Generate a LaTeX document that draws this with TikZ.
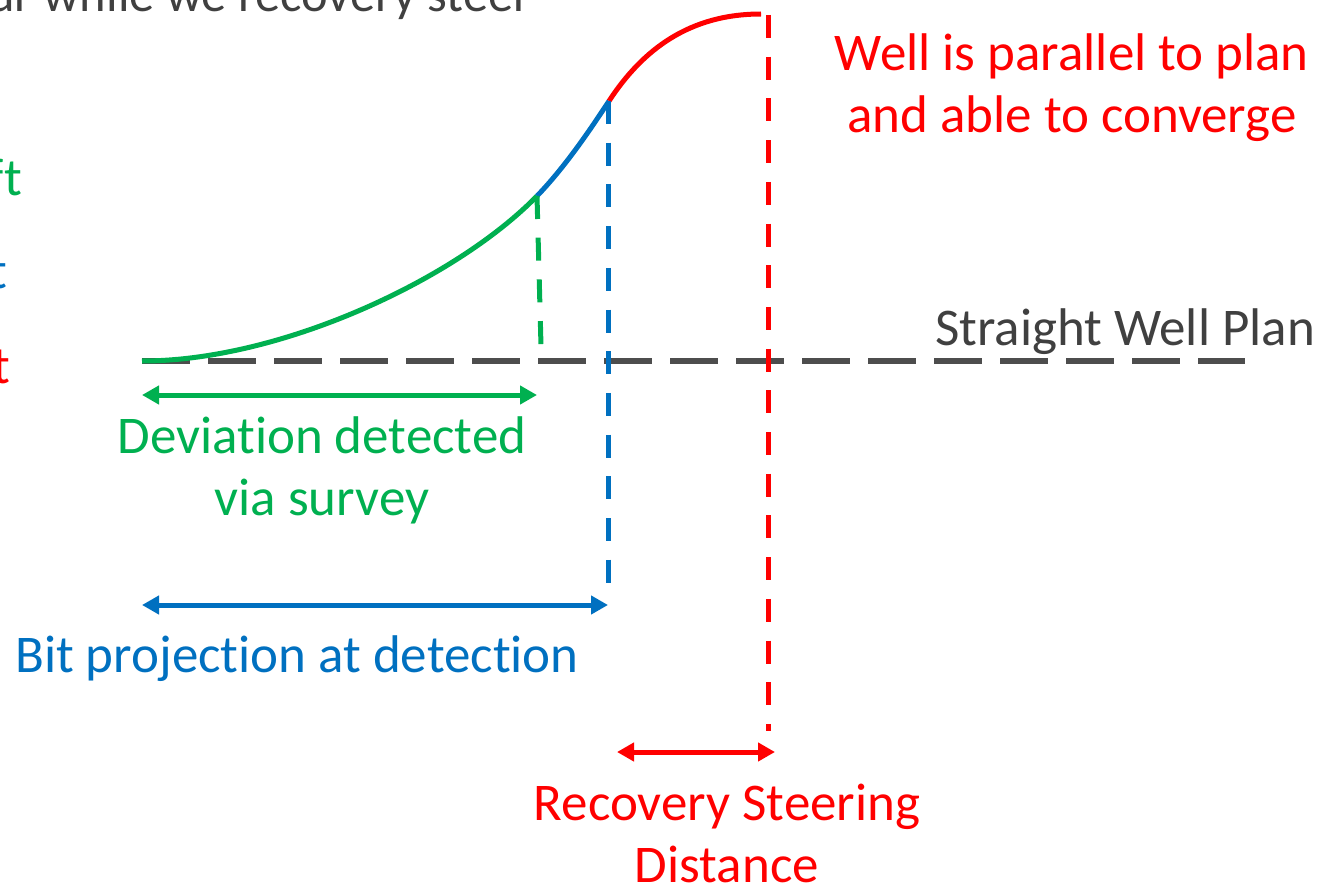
\documentclass[tikz,border=0pt]{standalone}
\usepackage{fontspec}
\setmainfont{Carlito}[Ligatures=NoCommon]
\usetikzlibrary{arrows.meta}
\definecolor{cgreen}{HTML}{00B050}
\definecolor{cblue}{HTML}{0070C0}
\definecolor{cred}{HTML}{FF0000}
\definecolor{cgray}{HTML}{404040}
\definecolor{cline}{HTML}{4D4D4D}
\begin{document}
\begin{tikzpicture}[x=1pt,y=-1pt,
  lbl/.style={inner sep=0pt, font=\fontsize{53}{62}\selectfont, align=center},
  curve/.style={line width=5pt},
  vdash/.style={line width=5pt, dash pattern=on 23pt off 18.7pt},
  plandash/.style={cline, line width=6pt, dash pattern=on 48pt off 18pt},
  dim/.style={line width=5pt, {Triangle[length=17pt,width=18pt]}-{Triangle[length=17pt,width=18pt]}},
]
\useasboundingbox (0,0) rectangle (1319,888);
\clip (0,0) rectangle (1319,888);
% key points
\coordinate (start) at (142,361);
\coordinate (det) at (537,196);
\coordinate (bit) at (609,101);
\coordinate (par) at (761,14);
\coordinate (planend) at (1245,361);
\coordinate (detfoot) at (541,346);
\coordinate (bittop) at (608,101);
\coordinate (bitfoot) at (608,588);
\coordinate (partop) at (768,15);
\coordinate (parfoot) at (768,731);
\coordinate (gA) at (142,395);
\coordinate (gB) at (537,395);
\coordinate (bA) at (142,605);
\coordinate (bB) at (608,605);
\coordinate (rA) at (617,752);
\coordinate (rB) at (775,752);
% plan line
\draw[plandash] (start) -- (planend);
% well path
\draw[cgreen, curve] (start) .. controls (280,361) and (455,280) .. (det);
\draw[cblue, curve] (det) .. controls (565,167) and (590,130) .. (bit);
\draw[cred, curve] (bit) .. controls (643,49) and (690,14) .. (par);
% dashed verticals
\draw[cgreen, vdash] (det) -- (detfoot);
\draw[cblue, vdash] (bittop) -- (bitfoot);
\draw[cred, vdash] (partop) -- (parfoot);
% dimension arrows
\draw[cgreen, dim] (gA) -- (gB);
\draw[cblue, dim] (bA) -- (bB);
\draw[cred, dim] (rA) -- (rB);
% labels
\node[lbl, text=cgreen, anchor=base] (devlbl) at (322,515) {Deviation detected\\via survey};
\node[lbl, text=cblue, anchor=base] (bitlbl) at (297,672) {Bit projection at detection};
\node[lbl, text=cred, anchor=base] (reclbl) at (727,882) {Recovery Steering\\Distance};
\node[lbl, text=cred, anchor=base] (parlbl) at (1072,132) {Well is parallel to plan\\and able to converge};
\node[lbl, text=cgray, anchor=base west] (planlbl) at (935,345) {Straight Well Plan};
\node[lbl, text=cgray, anchor=base east, font=\fontsize{50.5}{60}\selectfont] (toplbl) at (531,12) {ur while we recovery steer};
\node[lbl, text=cgreen, anchor=base east] (lft1) at (22,195) {ft};
\node[lbl, text=cblue, anchor=base east] (lft2) at (7,288) {t};
\node[lbl, text=cred, anchor=base east] (lft3) at (10,383) {t};
\end{tikzpicture}
\end{document}
